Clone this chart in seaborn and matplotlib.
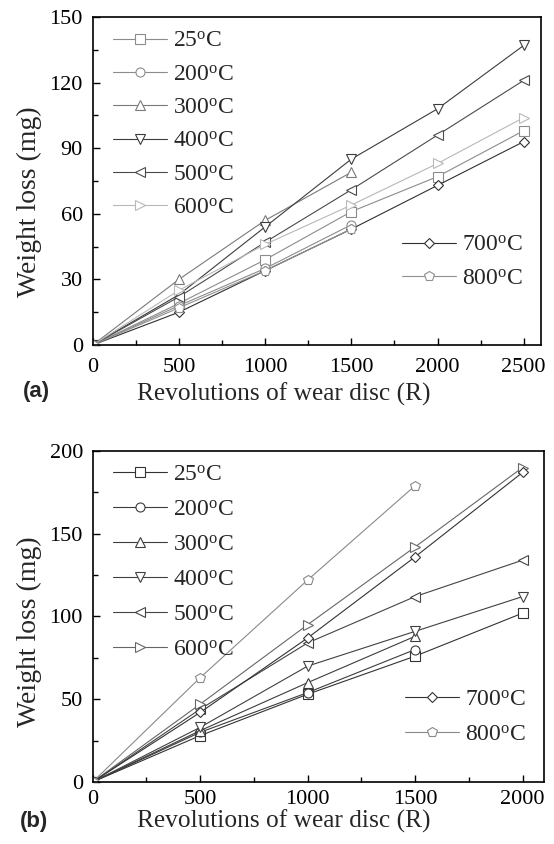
import matplotlib
matplotlib.use('Agg')
import matplotlib.pyplot as plt
import seaborn as sns
from matplotlib.ticker import MultipleLocator, AutoMinorLocator

# -- data --
temps = ['25', '200', '300', '400', '500', '600', '700', '800']
markers = ['s', 'o', '^', 'v', '<', '>', 'D', 'p']
msizes = [6.5, 6.5, 6.5, 6.5, 6.5, 6.5, 5.5, 7.5]

# panel (a): revolutions 0..2500
rev_a_long = [0, 500, 1000, 1500, 2000, 2500]
rev_a_short = [0, 500, 1000, 1500]
a_25 = [0, 19, 39, 61, 77, 98]
a_200 = [0, 18, 35, 55]
a_300 = [0, 30, 57, 79]
a_400 = [0, 23, 54, 85, 108, 137]
a_500 = [0, 22, 47, 71, 96, 121]
a_600 = [0, 25, 46, 64, 83, 104]
a_700 = [0, 15, 34, 53, 73, 93]
a_800 = [0, 17, 34, 53]

# panel (b): revolutions 0..2000
rev_b_long = [0, 500, 1000, 1500, 2000]
rev_b_short = [0, 500, 1000, 1500]
b_25 = [0, 28, 53, 76, 102]
b_200 = [0, 30, 54, 80]
b_300 = [0, 31, 60, 88]
b_400 = [0, 33, 70, 91, 112]
b_500 = [0, 44, 84, 112, 134]
b_600 = [0, 47, 95, 142, 190]
b_700 = [0, 42, 87, 136, 187]
b_800 = [0, 63, 122, 179]

colors_a = ['#8c8c8c', '#8c8c8c', '#7a7a7a', '#3c3c3c', '#4a4a4a', '#b8b8b8', '#303030', '#909090']
colors_b = ['#333333', '#3c3c3c', '#3c3c3c', '#404040', '#444444', '#666666', '#333333', '#8a8a8a']

sns.set_theme(style='ticks')
plt.rcParams['font.family'] = ['Liberation Serif', 'DejaVu Serif']
plt.rcParams['mathtext.fontset'] = 'custom'
plt.rcParams['mathtext.rm'] = 'Liberation Serif'
plt.rcParams['mathtext.it'] = 'Liberation Serif:italic'

fig = plt.figure(figsize=(5.54, 8.44), dpi=100)
ax_a = fig.add_axes([0.1673, 0.5912, 0.8092, 0.3887])
ax_b = fig.add_axes([0.1673, 0.0735, 0.8147, 0.3922])


def draw_panel(ax, series, colors, xmax, ymax, ystep, xpad, up_frac, low_frac,
               spacing, xlab_xy, ylab_xy):
    for (name, xs, ys), c, m, ms in zip(series, colors, markers, msizes):
        sns.lineplot(x=xs, y=ys, ax=ax, color=c, marker=m, markersize=ms,
                     markerfacecolor='white', markeredgecolor=c, markeredgewidth=0.8,
                     linewidth=0.8, estimator=None, legend=False,
                     label=name + r'$^{\rm o}$C')
    ax.set_xlim(0, xmax)
    ax.set_ylim(0, ymax)
    ax.xaxis.set_major_locator(MultipleLocator(500))
    ax.yaxis.set_major_locator(MultipleLocator(ystep))
    ax.xaxis.set_minor_locator(AutoMinorLocator(2))
    ax.yaxis.set_minor_locator(AutoMinorLocator(2))
    ax.tick_params(which='both', direction='in', top=False, right=False,
                   labelsize=16, width=1, colors='black')
    ax.tick_params(axis='x', which='both', pad=xpad)
    ax.tick_params(axis='y', which='both', pad=7)
    ax.tick_params(which='major', length=5)
    ax.tick_params(which='minor', length=3.5)
    for sp in ax.spines.values():
        sp.set_linewidth(1.2)
        sp.set_color('black')
    ax.set_xlabel('Revolutions of wear disc (R)', fontsize=18.3)
    ax.set_ylabel('Weight loss (mg)', fontsize=20)
    ax.xaxis.set_label_coords(*xlab_xy)
    ax.yaxis.set_label_coords(*ylab_xy)

    handles, labels = ax.get_legend_handles_labels()
    leg1 = ax.legend(handles[:6], labels[:6], loc='upper left', bbox_to_anchor=up_frac,
                     frameon=False, fontsize=17, borderpad=0, borderaxespad=0,
                     handlelength=2.3, handletextpad=0.25, labelspacing=spacing)
    ax.add_artist(leg1)
    ax.legend(handles[6:], labels[6:], loc='upper left', bbox_to_anchor=low_frac,
              frameon=False, fontsize=17, borderpad=0, borderaxespad=0,
              handlelength=2.3, handletextpad=0.25, labelspacing=spacing)


series_a = [
    ('25', rev_a_long, a_25), ('200', rev_a_short, a_200), ('300', rev_a_short, a_300),
    ('400', rev_a_long, a_400), ('500', rev_a_long, a_500), ('600', rev_a_long, a_600),
    ('700', rev_a_long, a_700), ('800', rev_a_short, a_800),
]
series_b = [
    ('25', rev_b_long, b_25), ('200', rev_b_short, b_200), ('300', rev_b_short, b_300),
    ('400', rev_b_long, b_400), ('500', rev_b_long, b_500), ('600', rev_b_long, b_600),
    ('700', rev_b_long, b_700), ('800', rev_b_short, b_800),
]

draw_panel(ax_a, series_a, colors_a, 2600, 150, 30, 9, (0.045, 0.959), (0.69, 0.337),
           0.5, (0.426, -0.116), (-0.114, 0.436))
draw_panel(ax_b, series_b, colors_b, 2100, 200, 50, 6, (0.044, 0.960), (0.692, 0.281),
           0.57, (0.4235, -0.083), (-0.113, 0.454))

fig.text(0.065, 1 - 392 / 844, '(a)', fontsize=16, fontweight='bold',
         family='Liberation Sans', ha='center', va='center')
fig.text(0.062, 1 - 821 / 844, '(b)', fontsize=16, fontweight='bold',
         family='Liberation Sans', ha='center', va='center')

fig.savefig('out.png', dpi=100)
